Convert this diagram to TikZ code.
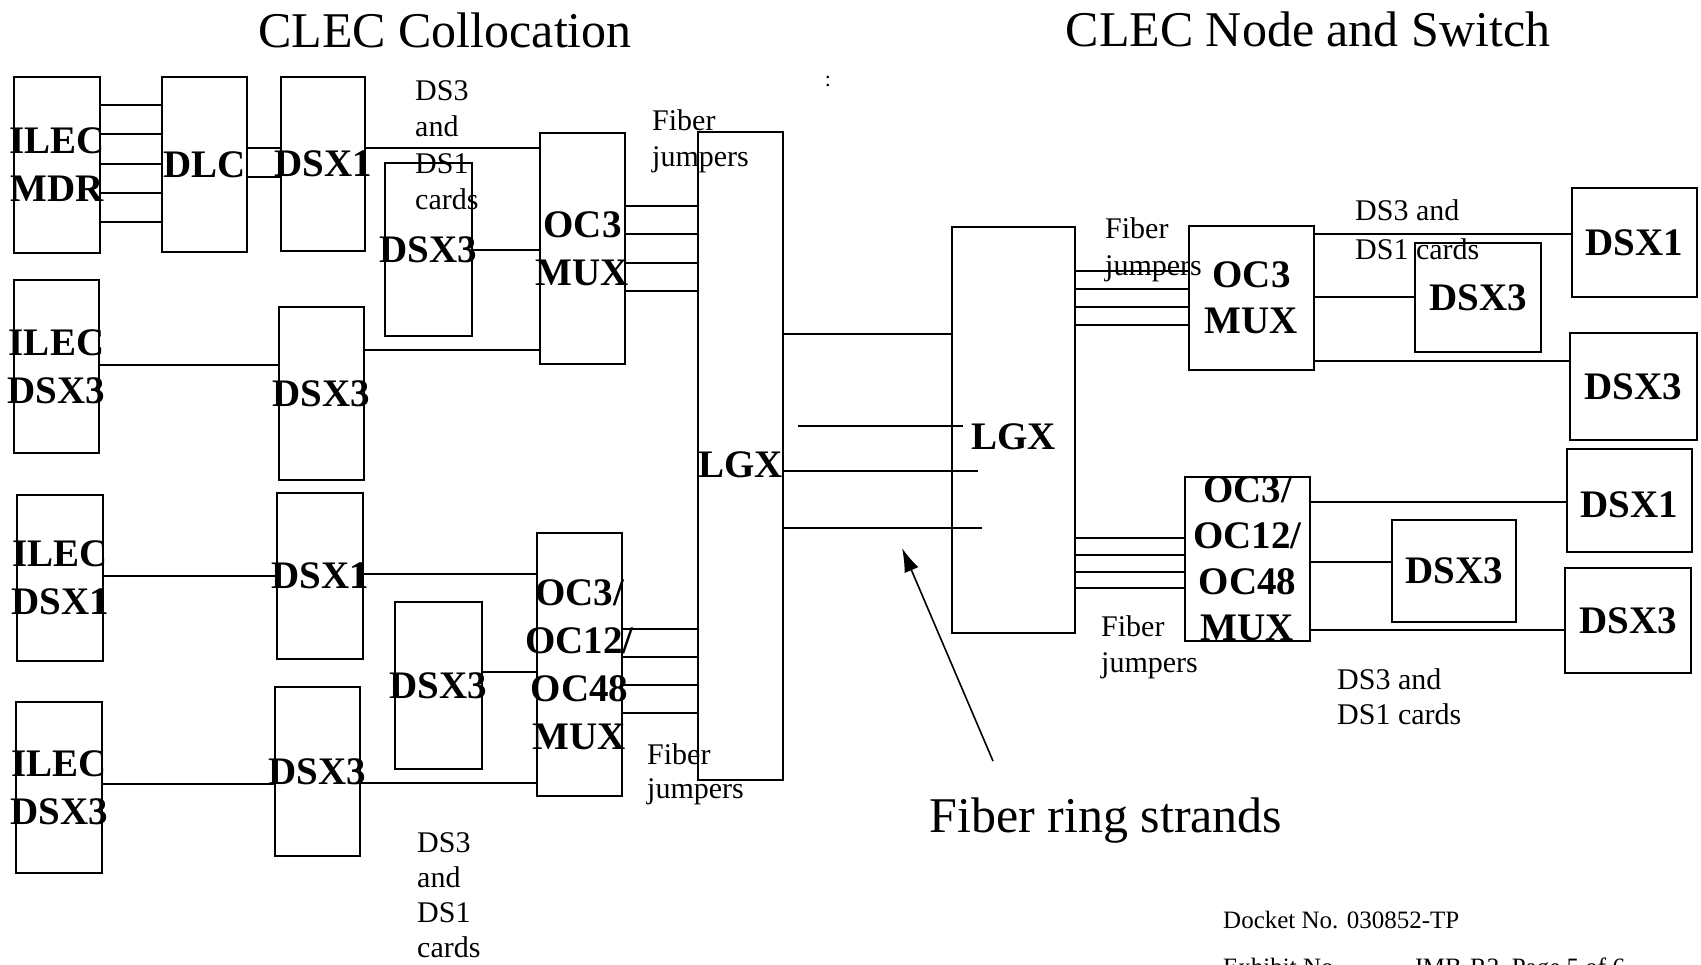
\documentclass[tikz,border=0pt]{standalone}
\usepackage{fontspec}
\setmainfont{Liberation Serif}
\usetikzlibrary{arrows.meta}
\begin{document}
\begin{tikzpicture}[x=1pt,y=-1pt,
  box/.style={draw, line width=2pt, inner sep=0pt, outer sep=0pt},
  rbox/.style={box, line width=2.4pt},
  blbl/.style={font=\fontsize{39}{48}\selectfont\bfseries, align=center, inner sep=0pt},
  rblbl/.style={font=\fontsize{39}{46}\selectfont\bfseries, align=center, inner sep=0pt},
  wire/.style={line width=1.8pt},
  note/.style={font=\fontsize{30}{36}\selectfont, align=left, inner sep=0pt, anchor=north west},
  title/.style={font=\fontsize{50}{60}\selectfont, inner sep=0pt, anchor=base},
  docket/.style={font=\fontsize{25}{30}\selectfont, inner sep=0pt, anchor=base west}
]
\useasboundingbox (0,0) rectangle (1701,965);
\clip (0,0) rectangle (1701,965);

% ---------- titles ----------
\node[title] (title1) at (445,48) {CLEC Collocation};
\node[title] (title2) at (1308,47) {CLEC Node and Switch};
\node[font=\fontsize{22}{22}\selectfont, inner sep=0pt] (colon) at (828,81) {:};

% ---------- left side boxes ----------
\node[box, minimum width=86pt, minimum height=176pt, label={[blbl]center:{ILEC\\MDR}}] (mdr) at (57,165) {};
\node[box, minimum width=85pt, minimum height=175pt, label={[blbl]center:DLC}] (dlc) at (204.5,164.5) {};
\node[box, minimum width=84pt, minimum height=174pt, label={[blbl]center:DSX1}] (dsx1a) at (323,164) {};
\node[box, minimum width=87pt, minimum height=173pt, label={[blbl]center:DSX3}] (dsx3a) at (428.5,249.5) {};
\node[box, minimum width=85pt, minimum height=231pt, label={[blbl]center:{OC3\\MUX}}] (oc3) at (582.5,248.5) {};
\node[box, minimum width=85pt, minimum height=648pt, label={[blbl,yshift=-9pt]center:LGX}] (lgx) at (740.5,456) {};
\node[box, minimum width=85pt, minimum height=173pt, label={[blbl]center:{ILEC\\DSX3}}] (ilec3a) at (56.5,366.5) {};
\node[box, minimum width=85pt, minimum height=173pt, label={[blbl]center:DSX3}] (dsx3b) at (321.5,393.5) {};
\node[box, minimum width=86pt, minimum height=166pt, label={[blbl]center:{ILEC\\DSX1}}] (ilec1) at (60,578) {};
\node[box, minimum width=86pt, minimum height=166pt, label={[blbl]center:DSX1}] (dsx1b) at (320,576) {};
\node[box, minimum width=87pt, minimum height=167pt, label={[blbl]center:DSX3}] (dsx3c) at (438.5,685.5) {};
\node[box, minimum width=85pt, minimum height=263pt, label={[blbl]center:{OC3/\\OC12/\\OC48\\MUX}}] (mux4) at (579.5,664.5) {};
\node[box, minimum width=86pt, minimum height=171pt, label={[blbl]center:{ILEC\\DSX3}}] (ilec3b) at (59,787.5) {};
\node[box, minimum width=85pt, minimum height=169pt, label={[blbl]center:DSX3}] (dsx3d) at (317.5,771.5) {};

% ---------- right side boxes ----------
\node[rbox, minimum width=123pt, minimum height=406pt, label={[rblbl,yshift=-7pt]center:LGX}] (rlgx) at (1013.5,430) {};
\node[rbox, minimum width=125pt, minimum height=144pt, label={[rblbl]center:{OC3\\MUX}}] (roc3) at (1251.5,298) {};
\node[rbox, minimum width=125pt, minimum height=109pt, label={[rblbl]center:DSX1}] (rdsx1a) at (1634.5,242.5) {};
\node[rbox, minimum width=126pt, minimum height=109pt, label={[rblbl]center:DSX3}] (rdsx3a) at (1478,297.5) {};
\node[rbox, minimum width=127pt, minimum height=107pt, label={[rblbl]center:DSX3}] (rdsx3b) at (1633.5,386.5) {};
\node[rbox, minimum width=125pt, minimum height=164pt, label={[rblbl]center:{OC3/\\OC12/\\OC48\\MUX}}] (rmux4) at (1247.5,559) {};
\node[rbox, minimum width=125pt, minimum height=103pt, label={[rblbl,yshift=-4pt]center:DSX1}] (rdsx1b) at (1629.5,500.5) {};
\node[rbox, minimum width=124pt, minimum height=102pt, label={[rblbl]center:DSX3}] (rdsx3c) at (1454,571) {};
\node[rbox, minimum width=126pt, minimum height=105pt, label={[rblbl]center:DSX3}] (rdsx3d) at (1628,620.5) {};

% ---------- left connectors ----------
\foreach \yy in {105,134,164,193,222}
  \draw[wire] (mdr.east |- 0,\yy) -- (dlc.west |- 0,\yy);
\foreach \yy in {148,177}
  \draw[wire] (dlc.east |- 0,\yy) -- (dsx1a.west |- 0,\yy);
\draw[wire] (dsx1a.east |- 0,148) -- (oc3.west |- 0,148);
\draw[wire] (dsx3a.east |- 0,250) -- (oc3.west |- 0,250);
\draw[wire] (dsx3b.east |- 0,350) -- (oc3.west |- 0,350);
\draw[wire] (ilec3a.east |- 0,365) -- (dsx3b.west |- 0,365);
\foreach \yy in {206,234,263,291}
  \draw[wire] (oc3.east |- 0,\yy) -- (lgx.west |- 0,\yy);
\draw[wire] (ilec1.east |- 0,576) -- (dsx1b.west |- 0,576);
\draw[wire] (dsx1b.east |- 0,574) -- (mux4.west |- 0,574);
\draw[wire] (dsx3c.east |- 0,672) -- (mux4.west |- 0,672);
\draw[wire] (ilec3b.east |- 0,784) -- (dsx3d.west |- 0,784);
\draw[wire] (dsx3d.east |- 0,783) -- (mux4.west |- 0,783);
\foreach \yy in {629,657,685,713}
  \draw[wire] (mux4.east |- 0,\yy) -- (lgx.west |- 0,\yy);

% ---------- fiber ring strands ----------
\draw[wire] (lgx.east |- 0,334) -- (rlgx.west |- 0,334);
\coordinate (s1a) at (798,426);
\coordinate (s1b) at (963,426);
\coordinate (s2b) at (978,471);
\coordinate (s3b) at (982,528);
\draw[wire] (s1a) -- (s1b);
\draw[wire] (lgx.east |- s2b) -- (s2b);
\draw[wire] (lgx.east |- s3b) -- (s3b);
\coordinate (atail) at (993,761);
\coordinate (ahead) at (902,548);
\draw[line width=1.6pt, -{Latex[length=24pt,width=15pt]}] (atail) -- (ahead);

% ---------- right connectors ----------
\foreach \yy in {271,289,307,325}
  \draw[wire] (rlgx.east |- 0,\yy) -- (roc3.west |- 0,\yy);
\draw[wire] (roc3.east |- 0,234) -- (rdsx1a.west |- 0,234);
\draw[wire] (roc3.east |- 0,297) -- (rdsx3a.west |- 0,297);
\draw[wire] (roc3.east |- 0,361) -- (rdsx3b.west |- 0,361);
\foreach \yy in {538,555,572,588}
  \draw[wire] (rlgx.east |- 0,\yy) -- (rmux4.west |- 0,\yy);
\draw[wire] (rmux4.east |- 0,502) -- (rdsx1b.west |- 0,502);
\draw[wire] (rmux4.east |- 0,562) -- (rdsx3c.west |- 0,562);
\draw[wire] (rmux4.east |- 0,630) -- (rdsx3d.west |- 0,630);

% ---------- notes ----------
\node[note, font=\fontsize{30}{36.5}\selectfont] (n1) at (415,80) {DS3\\and\\DS1\\cards};
\node[note] (n2) at (652,109) {Fiber\\jumpers};
\node[note, font=\fontsize{30}{35}\selectfont] (n3) at (417,832) {DS3\\and\\DS1\\cards};
\node[note, font=\fontsize{30}{34}\selectfont] (n4) at (647,743) {Fiber\\jumpers};
\node[note, font=\fontsize{30}{37}\selectfont] (n5) at (1105,217) {Fiber\\jumpers};
\node[note, font=\fontsize{30}{39}\selectfont] (n6) at (1355,199) {DS3 and\\DS1 cards};
\node[note] (n7) at (1101,615) {Fiber\\jumpers};
\node[note, font=\fontsize{30}{35}\selectfont] (n8) at (1337,668) {DS3 and\\DS1 cards};

\node[title] (ring) at (1106,832) {Fiber ring strands};

% ---------- docket ----------
\node[docket] (dk) at (1223,928) {Docket No. 030852-TP};
\node[docket] (ex1) at (1223,975) {Exhibit No.};
\node[docket] (ex2) at (1413,975) {JMB-R2, Page 5 of 6};
\end{tikzpicture}
\end{document}
